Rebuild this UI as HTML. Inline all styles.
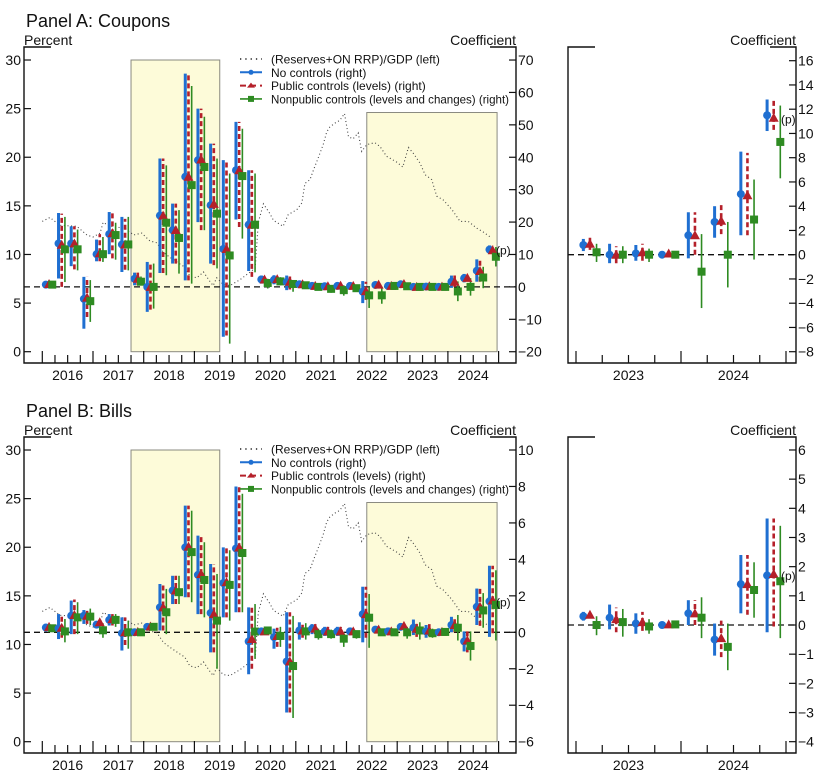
<!DOCTYPE html>
<html><head><meta charset="utf-8"><style>
html,body{margin:0;padding:0;background:#fff;}
svg{display:block;font-family:"Liberation Sans",sans-serif;}
</style></head><body>
<svg id="chart" width="826" height="780" viewBox="0 0 826 780" xmlns="http://www.w3.org/2000/svg"></svg>
<script>
// ---------- data ----------
const eventDates = [2016.07,2016.32,2016.57,2016.82,2017.07,2017.32,2017.57,2017.82,2018.07,2018.32,2018.57,2018.82,2019.07,2019.32,2019.57,2019.82,2020.07,2020.32,2020.57,2020.82,2021.07,2021.32,2021.57,2021.82,2022.07,2022.32,2022.57,2022.82,2023.07,2023.32,2023.57,2023.82,2024.07,2024.32,2024.57,2024.82];

const ratioDates = [2016.0,2016.15,2016.35,2016.68,2016.88,2017.0,2017.14,2017.2,2017.34,2017.63,2017.8,2017.96,2018.12,2018.26,2018.39,2018.52,2018.72,2018.81,2018.91,2019.05,2019.18,2019.31,2019.37,2019.44,2019.57,2019.7,2019.9,2020.1,2020.2,2020.26,2020.36,2020.49,2020.56,2020.75,2020.85,2021.02,2021.12,2021.18,2021.28,2021.35,2021.44,2021.54,2021.61,2021.67,2021.77,2021.87,2021.96,2022.04,2022.13,2022.23,2022.3,2022.4,2022.56,2022.66,2022.79,2022.99,2023.11,2023.22,2023.32,2023.45,2023.55,2023.68,2023.78,2023.91,2024.08,2024.24,2024.4,2024.57,2024.7,2024.86];
const ratioValues = [13.4,13.8,13.0,12.9,12.0,11.8,12.2,13.3,12.9,12.7,12.0,12.2,11.4,11.2,10.2,9.7,9.0,8.7,7.8,7.6,8.2,7.2,6.8,7.6,6.9,6.8,7.4,8.2,8.6,13.3,15.2,14.2,13.5,12.9,14.1,14.6,15.3,17.3,17.7,18.7,19.9,21.3,22.6,23.1,23.5,23.8,24.5,22.1,21.9,22.5,20.6,21.3,21.5,21.1,20.1,19.5,19.0,21.0,20.4,19.4,18.2,17.7,16.0,15.6,14.6,13.4,13.4,12.7,12.3,11.7];

// Panel A: coupons
const cpnNone   = [0.7,13.4,13.4,-3.7,10.1,16.3,13.1,2.5,0,22,17.5,34,39.1,25.2,11.7,36,19.2,2.3,2.2,1.5,0.8,0.3,0.2,0.3,0.3,-1.5,0.6,0.3,0.8,0.0,0.1,0.0,1.6,2.7,5.0,11.5];
const cpnNoneLo = [0.3,2.6,6.4,-12.9,7.9,10.1,4.6,0.5,-7.7,4.3,7.2,2,20,7.2,-15.4,20.8,4.9,1.0,0.8,-1.0,-0.3,-0.3,-0.3,-0.3,-0.3,-5.0,-0.5,-0.3,0.3,-0.7,-0.5,0.0,-0.3,1.4,1.6,10.2];
const cpnNoneHi = [1.1,22.8,18.7,3.1,14.6,23.1,21.6,4.4,7.7,39.6,25.7,65.8,55,44.2,39.1,50.9,36,3.5,3.6,3.5,1.8,0.9,0.8,0.9,0.9,1.8,1.5,0.9,1.3,0.9,0.8,0.0,3.5,4.0,8.5,12.8];
const cpnPub    = [0.9,13,13.4,-3.3,10.4,16.6,13.1,2.5,0,22,17.5,34,39.3,25.6,11.7,36,19.2,2.3,2.4,1.6,0.8,0.3,0.2,0.4,0.3,-1.3,0.7,0.3,0.9,0.0,0.2,0.1,1.6,2.8,4.9,11.3];
const cpnPubLo  = [0.5,0,5.4,-9.3,7.9,8.8,5.3,0.5,-7,4.3,7.2,2,17.5,6.7,-15,18.5,3.1,1.2,1.2,-0.8,-0.2,-0.2,-0.2,-0.2,-0.2,-4,-0.2,-0.2,0.4,-0.7,-0.5,0.0,0.0,1.7,1.6,10.3];
const cpnPubHi  = [1.3,22.6,18.7,3.1,16.3,23.1,21,4.4,7.7,39.6,25.7,65.8,55,44.2,39.1,50.9,36,3.4,3.6,3.3,1.7,0.9,0.8,1.0,0.9,1.6,1.5,0.9,1.4,0.7,0.9,0.1,3.5,4.1,8.4,12.8];
const cpnNonpub   = [0.7,11.6,11.6,-4.4,10.1,16,13.1,1.6,0,19.8,15.1,31.4,37,22.6,9.7,34.2,19.2,1.2,1.7,0.9,0.5,0.0,-0.6,-1.0,-0.4,-2.6,-2.6,0.3,0.2,0.0,0.0,0.0,-1.4,0.0,2.9,9.3];
const cpnNonpubLo = [0.4,1.5,5.1,-10.8,7.7,8.4,5.1,0.5,-6.7,3.6,4.1,1,17.5,5.7,-17.5,14.9,4.5,-0.5,0.5,-1.5,-0.5,-0.6,-1.8,-2.7,-1.2,-6.5,-5.2,-0.4,-0.6,-0.7,-0.6,-0.1,-4.4,-2.7,-0.4,6.3];
const cpnNonpubHi = [1.0,21.6,17.7,2.1,15.4,19.8,21.6,3.2,7.2,37.5,23.7,62,52.5,39.6,35,48.8,35,2.5,3.0,2.0,1.3,0.6,0.5,0.5,0.4,0,0,1.0,0.9,0.7,0.5,0.1,1.7,2.7,6.2,12.3];

// Panel B: bills
const billNone   = [0.26,0.22,0.91,0.91,0.42,0.68,-0.05,0.0,0.3,1.37,2.29,4.66,3.15,1.06,2.7,4.6,-0.5,0.05,-0.27,-1.6,0.1,0.2,0.05,0.05,0.05,1.0,0.15,0.05,0.3,0.25,0.05,0.0,0.4,-0.5,1.4,1.7];
const billNoneLo = [0.15,-0.37,-0.1,0.46,0.3,0.37,-1.0,-0.05,0.18,0.1,1.55,1.92,1.0,-1.1,0.82,1.1,-2.3,-0.05,-0.9,-4.4,-0.4,-0.1,-0.2,-0.2,-0.15,-0.55,0.0,-0.15,0.15,-0.15,-0.3,0.0,0.0,-1.05,0.4,-0.25];
const billNoneHi = [0.35,1.0,1.74,1.22,0.55,1.0,0.82,0.05,0.4,2.65,3.1,6.95,5.3,3.75,4.66,8.0,1.37,0.15,0.2,1.1,0.55,0.45,0.3,0.3,0.25,2.5,0.25,0.25,0.45,0.7,0.4,0.0,0.85,0.05,2.4,3.65];
const billPub    = [0.3,0.25,0.95,0.91,0.55,0.72,0.0,0.02,0.32,1.37,2.29,4.7,3.2,1.0,2.75,4.65,-0.37,0.05,-0.2,-1.6,0.1,0.2,0.05,0.05,0.05,1.0,0.15,0.05,0.35,0.2,0.1,0.02,0.4,-0.45,1.4,1.75];
const billPubLo  = [0.2,-0.3,-0.1,0.46,0.4,0.37,-0.7,-0.03,0.2,0.1,1.55,1.92,1.0,-1.1,0.82,1.1,-2.0,-0.05,-0.8,-4.4,-0.3,-0.1,-0.2,-0.2,-0.15,-0.3,0.0,-0.15,0.3,-0.25,-0.2,0.0,0.0,-1.1,0.35,-0.05];
const billPubHi  = [0.4,0.9,1.8,1.22,0.7,1.0,0.82,0.07,0.42,2.65,3.1,6.95,5.3,3.75,4.66,8.0,1.37,0.15,0.25,1.1,0.5,0.45,0.3,0.3,0.25,2.5,0.25,0.25,0.4,0.6,0.45,0.05,0.85,0.15,2.4,3.65];
const billNonpub   = [0.22,0.05,0.82,0.86,0.11,0.68,0.0,0.0,0.3,1.1,2.2,4.4,2.87,0.64,2.6,4.35,0.04,0.1,-0.2,-1.85,0.05,-0.1,-0.1,-0.35,-0.1,0.8,0.0,0.0,0.0,0.1,-0.05,0.02,0.25,-0.75,1.2,1.5];
const billNonpubLo = [0.05,-0.55,-0.1,0.4,-0.3,0.3,-0.9,-0.05,0.15,-0.1,1.55,1.65,0.82,-2.0,0.64,1.1,-1.46,-0.1,-0.8,-4.7,-0.4,-0.4,-0.35,-0.8,-0.35,-0.85,-0.2,-0.2,-0.35,-0.4,-0.3,-0.05,-0.45,-1.55,0.25,-0.45];
const billNonpubHi = [0.35,0.73,1.65,1.3,0.5,1.0,0.64,0.05,0.45,2.38,3.1,6.67,4.94,3.2,4.5,7.6,1.55,0.3,0.3,0.9,0.5,0.2,0.15,0.0,0.1,2.1,0.2,0.2,0.3,0.55,0.2,0.1,0.95,0.05,2.15,3.4];

const pctTicks = [0,5,10,15,20,25,30];
const cpnCoefTicks = [-20,-10,0,10,20,30,40,50,60,70];
const cpnZoomTicks = [-8,-6,-4,-2,0,2,4,6,8,10,12,14,16];
const billCoefTicks = [-6,-4,-2,0,2,4,6,8,10];
const billZoomTicks = [-4,-3,-2,-1,0,1,2,3,4,5,6];
const yearLabels = [2016,2017,2018,2019,2020,2021,2022,2023,2024];
const zoomYearLabels = [2023,2024];
const shadeSpans = [[2017.75,2019.5,30],[2022.4,2024.97,24.6]];

// ---------- drawing ----------
const NS = "http://www.w3.org/2000/svg";
const svg = document.getElementById("chart");
const BLUE="#1f6fd1", RED="#b5202a", GREEN="#2e8b22";
function mk(tag, attrs, parent){
  const e=document.createElementNS(NS,tag);
  for(const k in attrs) e.setAttribute(k,attrs[k]);
  (parent||svg).appendChild(e); return e;
}
function txt(s, x, y, size, anchor, parent){
  const t=mk("text",{x:x,y:y,"font-size":size,"text-anchor":anchor||"start",fill:"#111"},parent);
  t.textContent=s; return t;
}

function drawPanel(p){
  const g=mk("g",{});
  
  
  const xL=t=>42.3+(t-2016)*50.7;
  const yPct=v=>p.pct0-v*9.723;
  const yC=v=>p.c0-v*p.cs;
  const xR=t=>576+(t-2023)*105;
  const yZ=v=>p.z0-v*p.zs;
  const top=p.off+47, bot=p.off+363;

  // title
  const tt=txt(p.title,26,p.off+27,18,"start",g);
  
  

  // shading
  shadeSpans.forEach(s=>{
    const r=mk("rect",{x:xL(s[0]),y:yPct(s[2]),width:xL(s[1])-xL(s[0]),height:yPct(0)-yPct(s[2]),fill:"#fdfbd9",stroke:"#8a8a80","stroke-width":1},g);
    
    
  });

  // frames
  [[24,516],[568,796]].forEach((f,i)=>{
    const fr=mk("path",{d:`M${f[0]+27},${top} H${f[0]} V${bot} H${f[1]} V${top} H${f[1]-26}`,fill:"none",stroke:"#111","stroke-width":1.4},g);
    
    
  });
  const lab1=txt("Percent",24,p.off+45,14,"start",g);
  
  
  const lab2=txt("Coefficient",516,p.off+45,14,"end",g);
  
  
  const lab3=txt("Coefficient",796,p.off+45,14,"end",g);
  
  

  // y ticks
  pctTicks.forEach(v=>{ const y=yPct(v);
    mk("line",{x1:24,x2:31,y1:y,y2:y,stroke:"#111","stroke-width":1.2},g);
    const l=txt(String(v),21,y+5,14,"end",g);
    
    
  });
  p.coefTicks.forEach(v=>{ const y=yC(v);
    mk("line",{x1:509,x2:516,y1:y,y2:y,stroke:"#111","stroke-width":1.2},g);
    const l=txt(String(v).replace("-","\u2212"),518,y+5,14,"start",g);
    
    
  });
  p.zoomTicks.forEach(v=>{ const y=yZ(v);
    mk("line",{x1:789,x2:796,y1:y,y2:y,stroke:"#111","stroke-width":1.2},g);
    const l=txt(String(v).replace("-","\u2212"),798,y+5,14,"start",g);
    
    
  });

  // x ticks
  for(let q=0;q<=36;q++){ const t=2016+q/4, x=xL(t), len=q%4===0?12:8;
    mk("line",{x1:x,x2:x,y1:bot,y2:bot-len,stroke:"#111","stroke-width":1.2},g);}
  yearLabels.forEach(yv=>{
    const l=txt(String(yv),xL(yv+0.5),p.off+380,14,"middle",g);
    
    
  });
  for(let q=0;q<=8;q++){ const t=2023+q/4, x=xR(t), len=q%4===0?12:8;
    mk("line",{x1:x,x2:x,y1:bot,y2:bot-len,stroke:"#111","stroke-width":1.2},g);}
  zoomYearLabels.forEach(yv=>{
    const l=txt(String(yv),xR(yv+0.5),p.off+380,14,"middle",g);
    
    
  });

  // zero lines
  const z1=mk("line",{x1:24,x2:516,y1:yC(0),y2:yC(0),stroke:"#111","stroke-width":1.3,"stroke-dasharray":"6,4"},g);
  
  
  const z2=mk("line",{x1:568,x2:796,y1:yZ(0),y2:yZ(0),stroke:"#111","stroke-width":1.3,"stroke-dasharray":"6,4"},g);
  
  

  // ratio dotted line
  const pts=ratioDates.map((t,i)=>xL(t).toFixed(1)+","+yPct(ratioValues[i]).toFixed(1)).join(" ");
  const rl=mk("polyline",{points:pts,fill:"none",stroke:"#444","stroke-width":1.1,"stroke-dasharray":"1,2.6"},g);
  
  

  // series
  function drawEvents(xf,yf,dx,filter,suffix){
    const gs=mk("g",{},g);
    
    
    eventDates.forEach((t,i)=>{
      if(!filter(t)) return;
      const xb=xf(t), xr=xb+dx, xg=xb+2*dx;
      const b1=mk("line",{x1:xb,x2:xb,y1:yf(p.nLo[i]),y2:yf(p.nHi[i]),stroke:BLUE,"stroke-width":3},gs);
      
      
      const b2=mk("line",{x1:xr,x2:xr,y1:yf(p.pLo[i]),y2:yf(p.pHi[i]),stroke:RED,"stroke-width":2.6,"stroke-dasharray":"5,3"},gs);
      
      
      const b3=mk("line",{x1:xg,x2:xg,y1:yf(p.gLo[i]),y2:yf(p.gHi[i]),stroke:GREEN,"stroke-width":1.6},gs);
      
      
      const c=mk("circle",{cx:xb,cy:yf(p.n[i]),r:4,fill:BLUE},gs);
      
      
      const yr=yf(p.pu[i]);
      const tr=mk("polygon",{points:`${xr-5},${yr+4} ${xr+5},${yr+4} ${xr},${yr-5}`,fill:RED},gs);
      
      
      const yg=yf(p.g[i]);
      const sq=mk("rect",{x:xg-4,y:yg-4,width:8,height:8,fill:GREEN},gs);
      
      
    });
  }
  drawEvents(xL,yC,3.2,t=>true,'-main');
  drawEvents(xR,yZ,6.6,t=>t>=2023,'-zoom');
  const last=eventDates.length-1;
  const p1=txt("(p)",496,yC(p.n[last])+5,12,"start",g);
  
  
  const p2=txt("(p)",781,yZ(p.pu[last])+6,12,"start",g);
  
  

  // legend
  const lg=mk("g",{},g);
  
  
  const rows=[["(Reserves+ON RRP)/GDP (left)","dot"],["No controls (right)","blue"],["Public controls (levels) (right)","red"],["Nonpublic controls (levels and changes) (right)","green"]];
  rows.forEach((r,i)=>{
    const y=p.off+59+i*13.3;
    const e=mk("g",{},lg);
    
    
    if(r[1]==="dot") mk("line",{x1:240,x2:262,y1:y,y2:y,stroke:"#222","stroke-width":1.4,"stroke-dasharray":"1.3,4"},e);
    if(r[1]==="blue"){ mk("line",{x1:240,x2:262,y1:y,y2:y,stroke:BLUE,"stroke-width":2},e); mk("circle",{cx:251,cy:y,r:2.5,fill:BLUE},e);}
    if(r[1]==="red"){ mk("line",{x1:240,x2:262,y1:y,y2:y,stroke:RED,"stroke-width":2,"stroke-dasharray":"6,4"},e); mk("polygon",{points:`247,${y+2} 255,${y+2} 251,${y-3}`,fill:RED},e);}
    if(r[1]==="green"){ mk("line",{x1:240,x2:262,y1:y,y2:y,stroke:GREEN,"stroke-width":1.6},e); mk("rect",{x:248,y:y-3,width:6,height:6,fill:GREEN},e);}
    const t=txt(r[0],271,y+4.5,12,"start",e);
    if(i===3){ t.setAttribute("textLength","238"); t.setAttribute("lengthAdjust","spacingAndGlyphs"); }
  });
}

drawPanel({name:"panel-a-coupons",title:"Panel A: Coupons",off:0,pct0:351.7,c0:286.9,cs:3.241,z0:254.7,zs:12.125,
  coefTicks:cpnCoefTicks,zoomTicks:cpnZoomTicks,
  n:cpnNone,nLo:cpnNoneLo,nHi:cpnNoneHi,pu:cpnPub,pLo:cpnPubLo,pHi:cpnPubHi,g:cpnNonpub,gLo:cpnNonpubLo,gHi:cpnNonpubHi});
drawPanel({name:"panel-b-bills",title:"Panel B: Bills",off:390,pct0:741.7,c0:632.3,cs:18.23,z0:625,zs:29.17,
  coefTicks:billCoefTicks,zoomTicks:billZoomTicks,
  n:billNone,nLo:billNoneLo,nHi:billNoneHi,pu:billPub,pLo:billPubLo,pHi:billPubHi,g:billNonpub,gLo:billNonpubLo,gHi:billNonpubHi});
</script>
</body></html>
